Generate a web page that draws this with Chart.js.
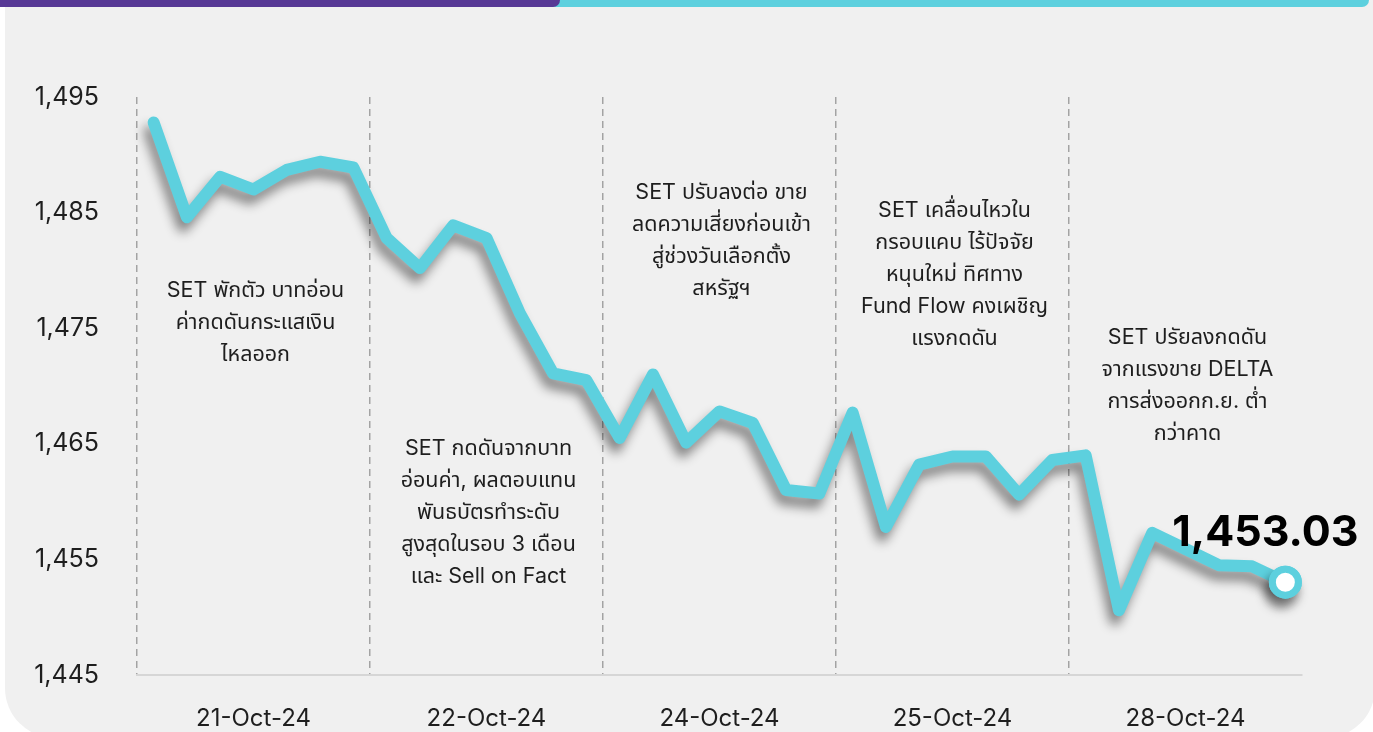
<!DOCTYPE html>
<html>
<head>
<meta charset="utf-8">
<script src="https://cdn.jsdelivr.net/npm/chart.js@4.4.1/dist/chart.umd.min.js"></script>
<style>
  html, body { margin:0; padding:0; background:#ffffff; }
  #wrap { position:relative; width:1373px; height:732px; overflow:hidden; background:#ffffff; }
  #panel { position:absolute; left:5px; top:0px; width:1370px; height:738px; background:#f0f0f0; border-radius:0 0 50px 50px; }
  #barCyan { position:absolute; left:0; top:0; width:1369px; height:7px; background:#5dd0de; border-radius:0 0 8px 0; }
  #barPurple { position:absolute; left:0; top:0; width:560px; height:7px; background:#573895; border-radius:0 0 14px 0; }
  canvas { position:absolute; left:0; top:0; }
</style>
</head>
<body>
<div id="wrap">
  <div id="panel"></div>
  <div id="barCyan"></div>
  <div id="barPurple"></div>
  <canvas id="c" width="1373" height="732"></canvas>
</div>
<script>
// ---- data ----
const dates = ['21-Oct-24', '22-Oct-24', '24-Oct-24', '25-Oct-24', '28-Oct-24'];
const pointsPerDay = 7;
const setIndex = [
  1492.8, 1484.6, 1488.1, 1487.0, 1488.7, 1489.4, 1488.9,
  1482.8, 1480.2, 1483.9, 1482.8, 1476.3, 1471.1, 1470.5,
  1465.5, 1471.0, 1465.1, 1467.8, 1466.8, 1461.0, 1460.7,
  1467.7, 1457.8, 1463.2, 1463.9, 1463.9, 1460.6, 1463.6,
  1464.0, 1450.6, 1457.3, 1455.9, 1454.5, 1454.4, 1453.03
];
const yTicks = [1445, 1455, 1465, 1475, 1485, 1495];
const notes = [
  ['SET พักตัว บาทอ่อน', 'ค่ากดดันกระแสเงิน', 'ไหลออก'],
  ['SET กดดันจากบาท', 'อ่อนค่า, ผลตอบแทน', 'พันธบัตรทำระดับ', 'สูงสุดในรอบ 3 เดือน', 'และ Sell on Fact'],
  ['SET ปรับลงต่อ ขาย', 'ลดความเสี่ยงก่อนเข้า', 'สู่ช่วงวันเลือกตั้ง', 'สหรัฐฯ'],
  ['SET เคลื่อนไหวใน', 'กรอบแคบ ไร้ปัจจัย', 'หนุนใหม่ ทิศทาง', 'Fund Flow คงเผชิญ', 'แรงกดดัน'],
  ['SET ปรัยลงกดดัน', 'จากแรงขาย DELTA', 'การส่งออกก.ย. ต่ำ', 'กว่าคาด']
];
const noteTopValue = [1478.3, 1464.6, 1486.7, 1485.2, 1474.15];

// ---- derived ----
const labels = dates.flatMap(d => Array(pointsPerDay).fill(d));
const lastIdx = setIndex.length - 1;
const FONT = 'Inter, "Noto Sans", "Noto Sans Thai", "DejaVu Sans", sans-serif';
const CYAN = '#5dd0de';

const shadowPlugin = {
  id: 'lineShadow',
  beforeDatasetDraw(chart) {
    const c = chart.ctx;
    c.save();
    c.shadowColor = 'rgba(0,0,0,0.45)';
    c.shadowBlur = 11;
    c.shadowOffsetX = -4;
    c.shadowOffsetY = 9;
  },
  afterDatasetDraw(chart, args) {
    chart.ctx.restore();
    // redraw the end marker cleanly on top (no shadow over its white centre)
    const p = args.meta.data[lastIdx];
    if (p) p.draw(chart.ctx, chart.chartArea);
  }
};

const textPlugin = {
  id: 'notes',
  afterDatasetsDraw(chart) {
    const c = chart.ctx;
    const xs = chart.scales.x, ys = chart.scales.y;
    c.save();
    c.fillStyle = '#1e1e1e';
    c.font = '21.5px ' + FONT;
    c.textAlign = 'center';
    c.textBaseline = 'middle';
    notes.forEach((lines, col) => {
      const cx = xs.getPixelForValue(col * pointsPerDay + 3) + 2;
      const y0 = ys.getPixelForValue(noteTopValue[col]);
      lines.forEach((t, k) => c.fillText(t, cx, y0 + k * 32));
    });
    // last value label
    const meta = chart.getDatasetMeta(0);
    const p = meta.data[lastIdx];
    c.fillStyle = '#000000';
    c.font = 'bold 43px ' + FONT;
    const txt = setIndex[lastIdx].toLocaleString('en-US', {minimumFractionDigits: 2, maximumFractionDigits: 2});
    c.fillText(txt, p.x - 20, p.y - 49);
    c.restore();
  }
};

new Chart(document.getElementById('c'), {
  type: 'line',
  data: {
    labels: labels,
    datasets: [{
      data: setIndex,
      borderColor: CYAN,
      borderWidth: 12,
      borderJoinStyle: 'round',
      borderCapStyle: 'round',
      tension: 0,
      fill: false,
      pointRadius: ctx => ctx.dataIndex === lastIdx ? 13 : 0,
      pointHoverRadius: ctx => ctx.dataIndex === lastIdx ? 13 : 0,
      pointBackgroundColor: '#ffffff',
      pointBorderColor: CYAN,
      pointBorderWidth: 7
    }]
  },
  options: {
    responsive: false,
    animation: false,
    events: [],
    layout: { padding: { top: 97, right: 71, left: 0, bottom: 0 } },
    plugins: { legend: { display: false }, tooltip: { enabled: false } },
    scales: {
      x: {
        type: 'category',
        offset: true,
        grid: {
          offset: true,
          drawTicks: false,
          lineWidth: 1.5,
          color: ctx => (ctx.index % pointsPerDay === 0) ? '#a3a3a3' : 'rgba(0,0,0,0)'
        },
        border: { display: true, color: '#d6d6d6', width: 2, dash: [7, 5] },
        ticks: {
          autoSkip: false,
          maxRotation: 0,
          padding: 29,
          color: '#1e1e1e',
          font: { family: FONT, size: 24 },
          callback: (v, i) => (i % pointsPerDay === 3) ? labels[i] : ''
        },
        afterFit: s => { s.height = 57; }
      },
      y: {
        min: 1445,
        max: 1495,
        afterBuildTicks: s => { s.ticks = yTicks.map(v => ({ value: v })); },
        grid: { display: false, drawTicks: false },
        border: { display: false },
        ticks: {
          padding: 38,
          color: '#1e1e1e',
          font: { family: FONT, size: 25 },
          callback: v => v.toLocaleString('en-US')
        },
        afterFit: s => { s.width = 137; }
      }
    }
  },
  plugins: [shadowPlugin, textPlugin]
});
</script>
</body>
</html>
